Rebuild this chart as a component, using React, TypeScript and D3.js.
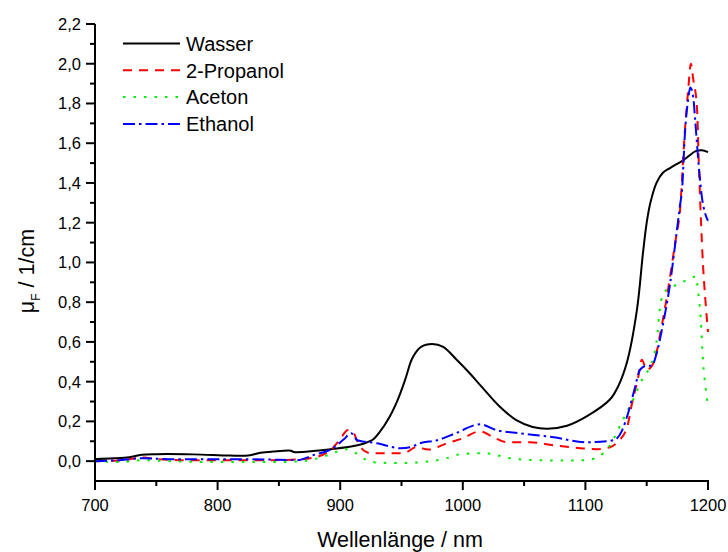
import React from "react";
import * as d3 from "d3";

// ---- data ----
const wasserX = [700, 715, 728, 738, 750, 780, 810, 825, 835, 845, 860, 862, 880, 895, 910, 920, 927, 932, 940, 947, 953, 959, 966, 975, 984, 995, 1006, 1016, 1030, 1044, 1057, 1069, 1085, 1101, 1120, 1127, 1134, 1142, 1147, 1150, 1153, 1158, 1163, 1169, 1180, 1190, 1195, 1200];
const wasserY = [0.01, 0.014, 0.02, 0.032, 0.035, 0.034, 0.028, 0.028, 0.042, 0.048, 0.052, 0.046, 0.052, 0.062, 0.075, 0.09, 0.11, 0.145, 0.22, 0.31, 0.41, 0.52, 0.575, 0.589, 0.575, 0.51, 0.44, 0.37, 0.275, 0.205, 0.172, 0.163, 0.178, 0.225, 0.31, 0.38, 0.5, 0.76, 1.05, 1.2, 1.3, 1.4, 1.45, 1.475, 1.515, 1.56, 1.565, 1.555];

const propanolX = [700, 720, 740, 750, 770, 800, 840, 865, 880, 893, 900, 906, 910, 914, 919, 925, 940, 952, 962, 972, 987, 1000, 1014, 1025, 1036, 1055, 1074, 1096, 1110, 1120, 1126, 1134, 1138, 1143, 1146, 1150, 1153, 1157, 1161, 1166, 1174, 1177, 1181, 1184, 1186, 1188, 1191, 1192.5, 1194, 1196, 1198, 1200];
const propanolY = [0.0, 0.003, 0.018, 0.01, 0.005, 0.005, 0.005, 0.008, 0.02, 0.06, 0.11, 0.155, 0.15, 0.1, 0.055, 0.04, 0.04, 0.04, 0.07, 0.058, 0.09, 0.115, 0.15, 0.12, 0.095, 0.095, 0.08, 0.065, 0.06, 0.07, 0.095, 0.17, 0.29, 0.42, 0.51, 0.46, 0.47, 0.52, 0.64, 0.81, 1.13, 1.25, 1.65, 1.88, 2.0, 1.92, 1.78, 1.5, 1.25, 0.98, 0.8, 0.65];

const acetonX = [700, 720, 740, 760, 800, 850, 875, 890, 905, 914, 920, 926, 946, 967, 987, 998, 1018, 1038, 1060, 1080, 1100, 1110, 1120, 1130, 1139, 1147, 1153, 1158, 1161, 1164, 1171, 1177, 1184, 1190, 1192, 1194, 1196, 1198, 1200];
const acetonY = [0.0, -0.005, 0.005, 0.0, -0.005, -0.005, 0.005, 0.03, 0.06, 0.035, 0.01, -0.005, -0.01, -0.005, 0.015, 0.035, 0.04, 0.015, 0.005, 0.003, 0.005, 0.02, 0.08, 0.2, 0.31, 0.42, 0.48, 0.6, 0.78, 0.85, 0.875, 0.9, 0.91, 0.93, 0.85, 0.72, 0.5, 0.37, 0.28];

const ethanolX = [700, 720, 740, 760, 800, 840, 865, 878, 894, 903, 909, 914, 930, 949, 957, 965, 979, 994, 1014, 1028, 1047, 1074, 1101, 1123, 1130, 1135, 1140, 1144.5, 1150, 1154, 1158, 1163, 1169, 1173, 1177, 1179, 1181, 1184, 1185.5, 1188, 1189.5, 1192, 1195, 1198, 1200];
const ethanolY = [0.0, 0.005, 0.015, 0.01, 0.01, 0.008, 0.005, 0.03, 0.065, 0.11, 0.14, 0.105, 0.09, 0.065, 0.07, 0.09, 0.105, 0.14, 0.185, 0.155, 0.14, 0.12, 0.095, 0.105, 0.155, 0.245, 0.36, 0.46, 0.48, 0.48, 0.54, 0.68, 0.89, 1.08, 1.28, 1.38, 1.63, 1.83, 1.88, 1.83, 1.72, 1.52, 1.33, 1.24, 1.21];

const seriesNames = ["Wasser", "2-Propanol", "Aceton", "Ethanol"];
const seriesColors = ["#000000", "#ff0000", "#00ee00", "#0000ff"];
const seriesDash = ["", "9,7", "2.5,8", "12,4,2.5,4"];

const xTicks = [700, 800, 900, 1000, 1100, 1200];
const xMinor = [750, 850, 950, 1050, 1150];
const yTicks = [0, 0.2, 0.4, 0.6, 0.8, 1.0, 1.2, 1.4, 1.6, 1.8, 2.0, 2.2];
const yMinor = [0.1, 0.3, 0.5, 0.7, 0.9, 1.1, 1.3, 1.5, 1.7, 1.9, 2.1];

const FONT = "'Liberation Sans', Arial, sans-serif";

export default function App() {
  const W = 728, H = 552;
  const x = d3.scaleLinear().domain([700, 1200]).range([95, 708]);
  const y = d3.scaleLinear().domain([-0.1, 2.2]).range([481, 24]);

  const seriesData = [
    [wasserX, wasserY],
    [propanolX, propanolY],
    [acetonX, acetonY],
    [ethanolX, ethanolY],
  ];

  const mkLine = (smooth: boolean) =>
    d3
      .line<[number, number]>()
      .x((d) => x(d[0]))
      .y((d) => y(d[1]))
      .curve(smooth ? d3.curveCatmullRom.alpha(0.5) : d3.curveMonotoneX);

  const fmt = (v: number) => v.toFixed(1).replace(".", ",");

  const legendX0 = 123, legendX1 = 180, legendY0 = 43.5, legendDy = 26.8;

  return (
    <svg
      width={W}
      height={H}
      style={{ position: "absolute", left: 0, top: 0, background: "#fff" }}
      fontFamily={FONT}
    >
      <rect x={0} y={0} width={W} height={H} fill="#fff" />
      {/* series */}
      {seriesData.map(([xs, ys], i) => {
        const pts = xs.map((v, k) => [v, ys[k]] as [number, number]);
        return (
          <path
            key={i}
            d={mkLine(i === 0)(pts) || ""}
            fill="none"
            stroke={seriesColors[i]}
            strokeWidth={2}
            strokeDasharray={seriesDash[i] || undefined}
            strokeLinecap="butt"
            strokeLinejoin="round"
          />
        );
      })}

      {/* axes */}
      <line x1={x(700)} x2={x(700)} y1={y(2.2)} y2={y(-0.1)} stroke="#000" strokeWidth={2} />
      <line x1={x(700) - 1} x2={x(1200) + 1} y1={y(-0.1)} y2={y(-0.1)} stroke="#000" strokeWidth={2} />
      {yTicks.map((t) => (
        <g key={"yt" + t}>
          <line x1={x(700) - 9} x2={x(700)} y1={y(t)} y2={y(t)} stroke="#000" strokeWidth={2} />
          <text x={x(700) - 14} y={y(t)} dy="0.36em" textAnchor="end" fontSize={16.5} fill="#000">
            {fmt(t)}
          </text>
        </g>
      ))}
      {yMinor.map((t) => (
        <line key={"ym" + t} x1={x(700) - 5} x2={x(700)} y1={y(t)} y2={y(t)} stroke="#000" strokeWidth={2} />
      ))}
      {xTicks.map((t) => (
        <g key={"xt" + t}>
          <line x1={x(t)} x2={x(t)} y1={y(-0.1)} y2={y(-0.1) + 9} stroke="#000" strokeWidth={2} />
          <text x={x(t)} y={511} textAnchor="middle" fontSize={16.5} fill="#000">
            {t}
          </text>
        </g>
      ))}
      {xMinor.map((t) => (
        <line key={"xm" + t} x1={x(t)} x2={x(t)} y1={y(-0.1)} y2={y(-0.1) + 5} stroke="#000" strokeWidth={2} />
      ))}

      {/* axis titles */}
      <text x={400} y={547} textAnchor="middle" fontSize={21.5} fill="#000">
        Wellenlänge / nm
      </text>
      <text transform="translate(34,271) rotate(-90)" textAnchor="middle" fontSize={21.5} fill="#000">
        μ
        <tspan fontSize={12} dy={6}>F</tspan>
        <tspan dy={-6}> / 1/cm</tspan>
      </text>

      {/* legend */}
      {seriesNames.map((n, i) => (
        <g key={n}>
          <line
            x1={legendX0}
            x2={legendX1}
            y1={legendY0 + i * legendDy}
            y2={legendY0 + i * legendDy}
            stroke={seriesColors[i]}
            strokeWidth={2}
            strokeDasharray={seriesDash[i] || undefined}
          />
          <text x={186} y={legendY0 + i * legendDy} dy="0.36em" fontSize={20} fill="#000">
            {n}
          </text>
        </g>
      ))}
    </svg>
  );
}
